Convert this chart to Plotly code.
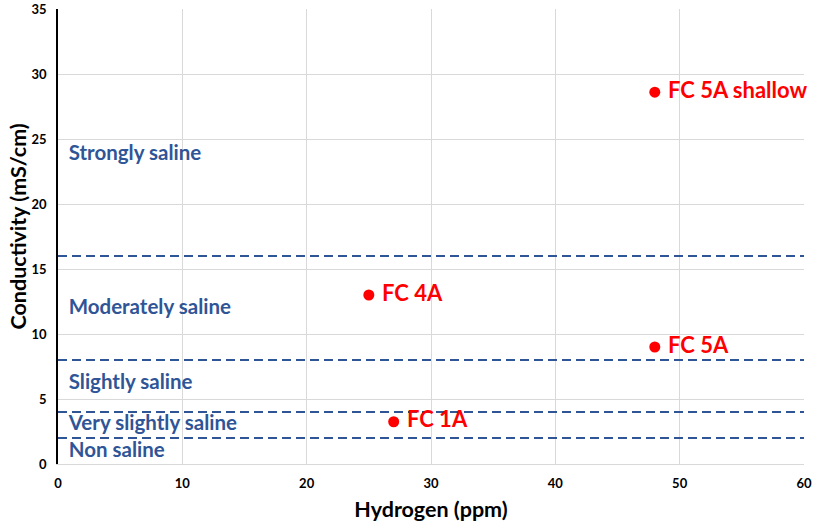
import plotly.graph_objects as go

# sample points
hydrogen = [27, 48, 25, 48]
conductivity = [3.25, 9.0, 13.0, 28.6]
sample_names = ["FC 1A", "FC 5A", "FC 4A", "FC 5A shallow"]

# salinity class boundaries and labels
class_limits = [2, 4, 8, 16]
class_names = ["Non saline", "Very slightly saline", "Slightly saline",
               "Moderately saline", "Strongly saline"]
class_label_y = [0.95, 3.0, 6.2, 11.9, 23.8]

x_ticks = [0, 10, 20, 30, 40, 50, 60]
y_ticks = [0, 5, 10, 15, 20, 25, 30, 35]

FONT = "Lato"
BLUE = "#2F5597"

fig = go.Figure()

for lim in class_limits:
    fig.add_trace(go.Scatter(
        x=[x_ticks[0], x_ticks[-1]], y=[lim, lim], mode="lines",
        line=dict(color=BLUE, width=2, dash="9px,5px"),
        hoverinfo="skip", showlegend=False,
    ))

fig.add_trace(go.Scatter(
    x=[0.86] * len(class_names), y=class_label_y, mode="text",
    text=class_names, textposition="middle right",
    textfont=dict(family=FONT, size=20.5, color=BLUE, weight="bold"),
    hoverinfo="skip", showlegend=False,
))

fig.add_trace(go.Scatter(
    x=hydrogen, y=conductivity, mode="markers+text",
    text=[" " + n for n in sample_names], textposition="middle right",
    marker=dict(color="#FF0000", size=11),
    textfont=dict(family=FONT, size=22, color="#FF0000", weight="bold"),
    cliponaxis=False, showlegend=False,
))

axis_common = dict(
    showgrid=True, gridcolor="#D9D9D9", gridwidth=1, zeroline=False,
    ticks="", automargin=False, ticklabelstandoff=7, ticklabeloverflow="allow",
    tickfont=dict(family=FONT, size=13, color="black", weight="bold"),
)

fig.update_xaxes(
    range=[0, 60], tickvals=x_ticks, title_text="Hydrogen (ppm)",
    title_font=dict(family=FONT, size=21.5, color="black", weight="bold"),
    showline=True, linecolor="#D9D9D9", mirror=False, title_standoff=12,
    **axis_common,
)
fig.update_yaxes(
    range=[0, 35], tickvals=y_ticks,
    showline=True, linecolor="black", linewidth=1.5,
    **axis_common,
)

# y title as an annotation so it can sit close to the tick labels
fig.add_annotation(
    text="Conductivity (mS/cm)", textangle=-90, showarrow=False,
    xref="paper", yref="paper", x=0, y=0.5,
    xanchor="center", yanchor="middle", xshift=-41, yshift=10,
    font=dict(family=FONT, size=21.5, color="black", weight="bold"),
)

fig.update_layout(
    width=816, height=525,
    margin=dict(l=58, r=12, t=9, b=61),
    paper_bgcolor="white", plot_bgcolor="white",
    font=dict(family=FONT),
)

# drop the default 8px body margin so the figure fills the window
fig.write_html(
    "out.html",
    config={"displayModeBar": False},
    post_script="document.body.style.margin = '0';",
)
